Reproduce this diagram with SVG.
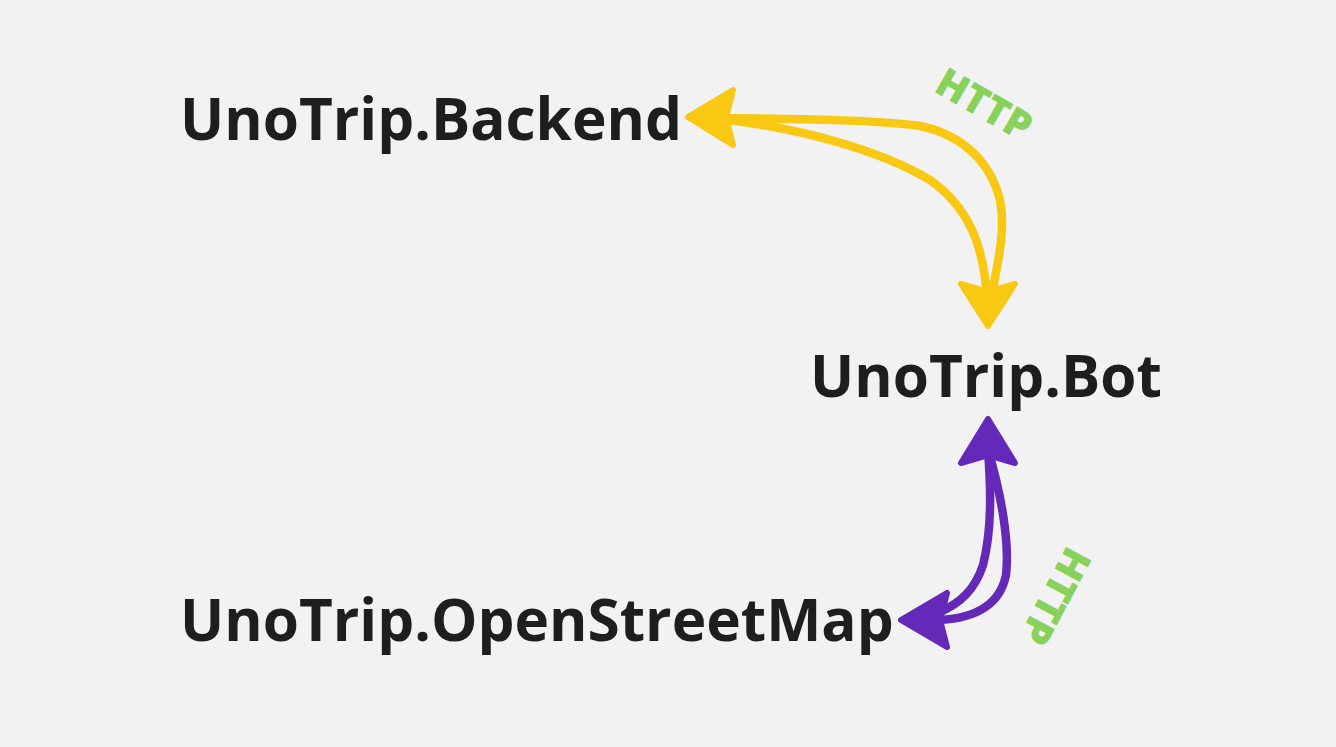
<svg xmlns="http://www.w3.org/2000/svg" width="1336" height="747" viewBox="0 0 1336 747">
<style>
.node{font-family:"Open Sans","Noto Sans",sans-serif;font-weight:700;font-size:58.5px;fill:#1E1E1E}
.lbl{font-family:"Open Sans","Noto Sans",sans-serif;font-weight:800;font-size:40px;fill:#88D15A}
.y{fill:none;stroke:#F8C813;stroke-width:8.5;stroke-linecap:round}
.yh{fill:#F8C813;stroke:#F8C813;stroke-width:6;stroke-linejoin:round}
.p{fill:none;stroke:#6429B8;stroke-width:8.5;stroke-linecap:round}
.ph{fill:#6429B8;stroke:#6429B8;stroke-width:6;stroke-linejoin:round}
</style>
<rect width="1336" height="747" fill="#F2F2F2"/>
<g id="backend"><text class="node" x="180" y="140">UnoTrip.Backend</text></g>
<g id="bot"><text class="node" x="810" y="397">UnoTrip.Bot</text></g>
<g id="osm"><text class="node" x="180" y="641">UnoTrip.OpenStreetMap</text></g>
<g id="connectors">
<path class="y" d="M720 118 C800 119 880 120 920 126 C960 134 990 160 1000 200 C1006 230 998 260 991 300"/>
<path class="y" d="M720 119 C800 128 880 150 930 180 C965 205 984 240 987 300"/>
<path class="yh" d="M688 117 L733 90 L726 117 L733 145 Z"/>
<path class="yh" d="M988 326 L961 284 L988 292 L1015 284 Z"/>
<path class="p" d="M988 450 C1000 490 1010 540 1006 575 C1000 605 975 618 940 620"/>
<path class="p" d="M988 450 C991 490 992 530 983 565 C975 590 960 603 940 612"/>
<path class="ph" d="M988 419 L961 463 L988 455 L1015 463 Z"/>
<path class="ph" d="M901 620 L947 593 L940 620 L947 647 Z"/>
<text class="lbl" transform="translate(985 103) rotate(30)" text-anchor="middle" dominant-baseline="central">HTTP</text>
<text class="lbl" transform="translate(1057 597) rotate(118)" text-anchor="middle" dominant-baseline="central">HTTP</text>
</g>
</svg>
